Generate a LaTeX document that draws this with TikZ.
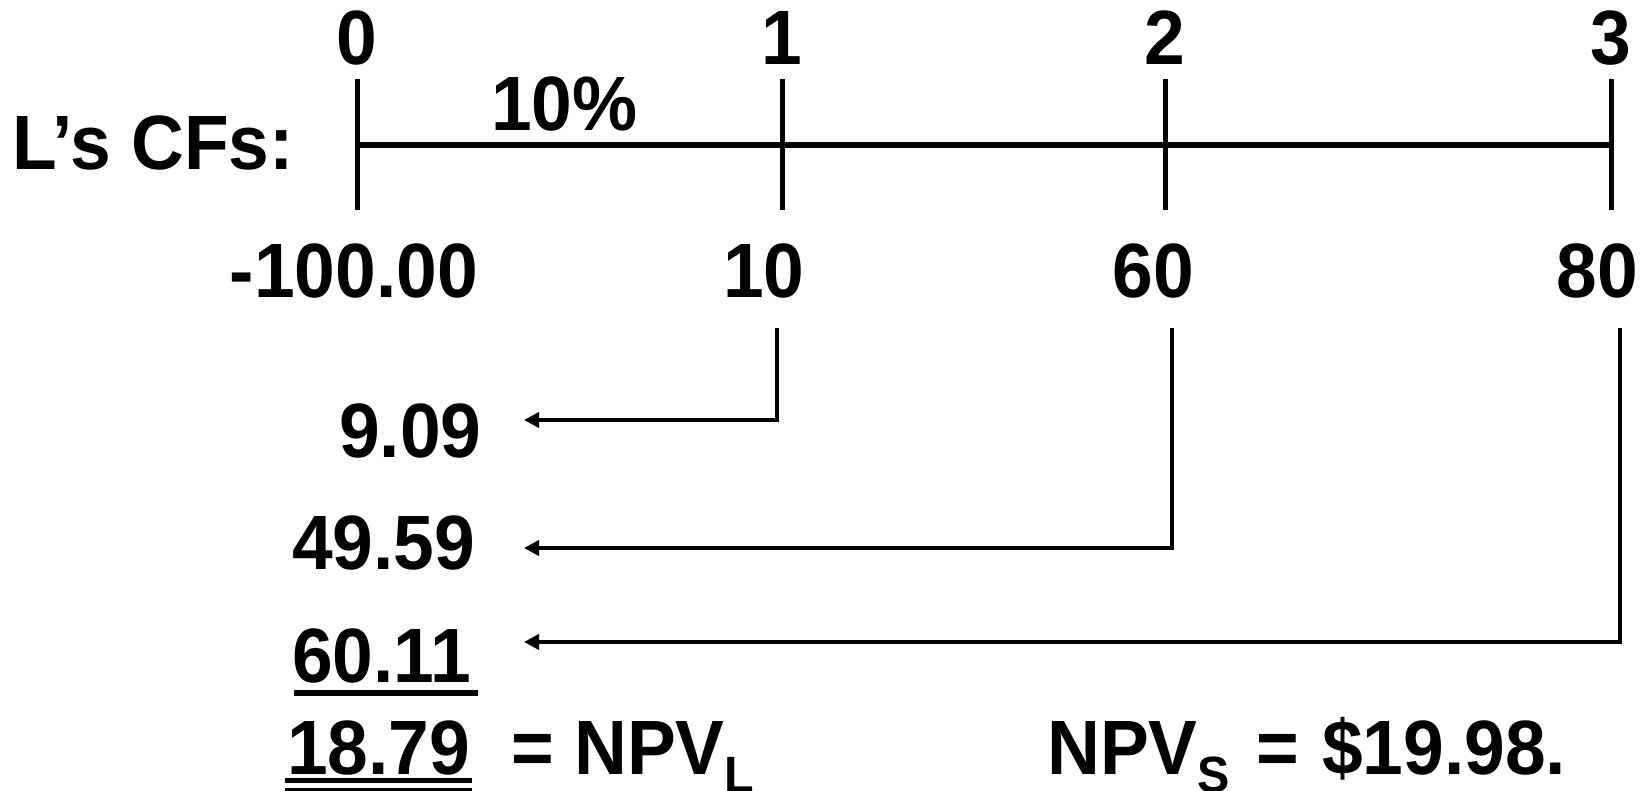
\documentclass[tikz,border=0pt]{standalone}
\usepackage{fontspec}
\setmainfont{Liberation Sans}[FakeStretch=0.95]
\usetikzlibrary{arrows.meta}
\newcommand{\subs}[1]{\raisebox{-18pt}{\fontsize{51}{60}\selectfont #1}}
\begin{document}
\begin{tikzpicture}[x=1pt,y=-1pt,
  txt/.style={font=\fontsize{77}{90}\selectfont\bfseries, inner sep=0pt, text=black},
  lab/.style={txt, anchor=base},
  lftlab/.style={txt, anchor=base west},
  axisline/.style={line width=6pt, black},
  tickline/.style={line width=5pt, black},
  conn/.style={line width=4.5pt, black, -{Triangle[length=15pt,width=15pt]}},
  rule/.style={line width=6pt, black},
  thinrule/.style={line width=5pt, black}]
\useasboundingbox (0,0) rectangle (1646,791);
\fill[white] (0,0) rectangle (1646,791);

% label
\node[lftlab] (lcf) at (12,170) {L’s CFs:};
\node[lftlab] (rate) at (491,131) {10\%};

% time line
\coordinate (a0) at (357,145);
\coordinate (a3) at (1611,145);
\draw[axisline] (a0) -- (a3);
\foreach \x/\n in {357/0,782/1,1165/2,1611/3}{
  \coordinate (tt\n) at (\x,79);
  \coordinate (tb\n) at (\x,210);
  \draw[tickline] (tt\n) -- (tb\n);
  \node[lab] (p\n) at (\x,65) {\n};
}

% cash flows
\node[lab] (cf0) at (354,298) {-100.00};
\node[lab] (cf1) at (764,298) {10};
\node[lab] (cf2) at (1153,298) {60};
\node[lab] (cf3) at (1597,298) {80};

% present values
\node[lftlab] (r1) at (339,457) {9.09};
\node[lftlab] (r2) at (292,569) {49.59};
\node[lftlab] (r3) at (292,682) {60.11};
\node[lftlab] (r4) at (287,774) {18.79};
\node[lftlab] (npvl) at (511,774) {= NPV\subs{L}};
\node[lftlab] (npvs) at (1047,774) {NPV\subs{S} \hspace{6pt}= \hspace{3pt}\$19.98.};

% connectors
\coordinate (s1) at (777,328);
\coordinate (s2) at (1172,328);
\coordinate (s3) at (1620,328);
\coordinate (e1) at (524,420);
\coordinate (e2) at (524,548);
\coordinate (e3) at (524,642);
\draw[conn] (s1) |- (e1);
\draw[conn] (s2) |- (e2);
\draw[conn] (s3) |- (e3);

% underlines
\draw[rule] (294,693) -- (478,693);
\draw[thinrule] (285,780.5) -- (472,780.5);
\draw[thinrule] (285,790) -- (472,790);
\end{tikzpicture}
\end{document}
